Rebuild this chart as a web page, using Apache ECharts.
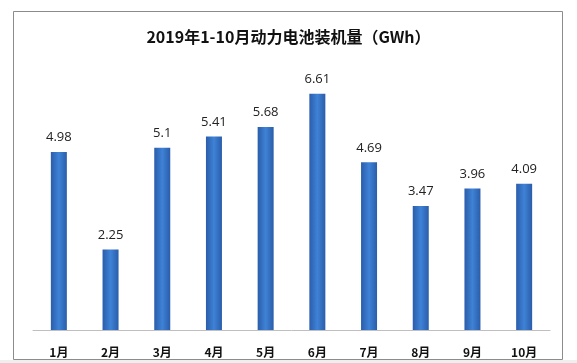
<!DOCTYPE html>
<html>
<head>
<meta charset="utf-8">
<script src="https://cdn.jsdelivr.net/npm/echarts@6/dist/echarts.min.js"></script>
<style>
html,body{margin:0;padding:0;background:#fff;}
#chart{width:577px;height:363px;}
</style>
</head>
<body>
<div id="chart"></div>
<script>
const titleText = '2019年1-10月动力电池装机量（GWh）';
const categories = ['1月','2月','3月','4月','5月','6月','7月','8月','9月','10月'];
const values = [4.98, 2.25, 5.1, 5.41, 5.68, 6.61, 4.69, 3.47, 3.96, 4.09];
const valueLabels = ['4.98','2.25','5.1','5.41','5.68','6.61','4.69','3.47','3.96','4.09'];

const chart = echarts.init(document.getElementById('chart'), null, {renderer:'canvas'});
chart.setOption({
  animation: false,
  backgroundColor: '#fff',
  title: {
    text: titleText,
    left: 'center',
    top: 24,
    textStyle: {fontFamily: '"Noto Sans CJK SC", sans-serif', fontSize: 16, fontWeight: 'bold', color: '#111'}
  },
  graphic: [
    {type:'rect', shape:{x:13.5, y:11.5, width:549, height:348}, style:{fill:'none', stroke:'#8c8c8c', lineWidth:1}, z:-1},
    {type:'rect', shape:{x:0, y:360, width:577, height:3}, style:{fill:'#efefef'}, z:-1}
  ],
  grid: {left: 33, right: 27, top: 44, bottom: 33},
  xAxis: {
    type: 'category',
    data: categories,
    axisLine: {lineStyle: {color: '#bfbfbf', width: 1}},
    axisTick: {show: false},
    axisLabel: {margin: 16, fontFamily: '"Noto Sans CJK SC", sans-serif', fontSize: 12, fontWeight: 'bold', color: '#111'}
  },
  yAxis: {
    type: 'value', min: 0, max: 8,
    show: false,
    splitLine: {show: false}
  },
  series: [{
    type: 'bar',
    data: values,
    barWidth: 16,
    itemStyle: {
      color: new echarts.graphic.LinearGradient(0, 0, 1, 0, [
        {offset: 0, color: '#2a5daa'},
        {offset: 0.5, color: '#3f82d6'},
        {offset: 1, color: '#2a5daa'}
      ])
    },
    label: {
      show: true, position: 'top', distance: 8,
      formatter: p => valueLabels[p.dataIndex],
      fontFamily: '"Open Sans", "Noto Sans", sans-serif', fontSize: 13, color: '#222'
    }
  }]
});
</script>
</body>
</html>
